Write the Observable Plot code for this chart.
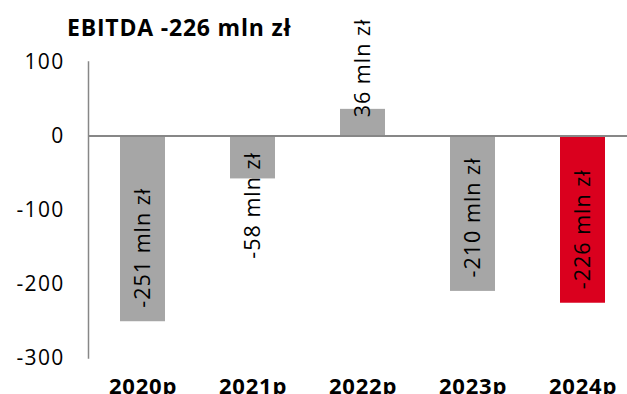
<!DOCTYPE html>
<html>
<head>
<meta charset="utf-8">
<script src="https://cdn.jsdelivr.net/npm/d3@7"></script>
<script src="https://cdn.jsdelivr.net/npm/@observablehq/plot@0.6"></script>
<style>
  html, body { margin: 0; padding: 0; background: #fff; overflow: hidden; }
  #wrap { position: relative; width: 627px; height: 394px; }
  #title {
    position: absolute; left: 67px; top: 12px;
    font: bold 23px "Open Sans", sans-serif; line-height: 30px; color: #000;
    letter-spacing: 0.8px; white-space: nowrap;
  }
  #wrap svg { position: absolute; left: 0; top: 0; overflow: visible; }
  #wrap g[aria-label="y-axis tick label"] text { letter-spacing: 1.3px; }
  #wrap g[aria-label="x-axis tick label"] text { letter-spacing: 0.8px; }
  #wrap g[aria-label="text"] text { letter-spacing: 1px; }
</style>
</head>
<body>
<div id="wrap"><div id="title"></div></div>
<script>
// EBITDA by year, in mln zł
const years = ["2020p", "2021p", "2022p", "2023p", "2024p"];
const ebitda = [-251, -58, 36, -210, -226];
const barColors = ["#A6A6A6", "#A6A6A6", "#A6A6A6", "#A6A6A6", "#DA001E"];
const yTicks = [100, 0, -100, -200, -300];
const unit = "mln zł";

const rows = years.map((year, i) => ({
  year,
  value: ebitda[i],
  color: barColors[i],
  label: `${ebitda[i]} ${unit}`
}));

document.getElementById("title").textContent = `EBITDA ${ebitda[ebitda.length - 1]} ${unit}`;

// label placement: inside the bar end when it fits, hanging under zero when it doesn't,
// and starting just inside the top of positive bars
const fitsInside = d => d.value < -150;
const hangsFromZero = d => d.value < 0 && d.value >= -150;
const positive = d => d.value >= 0;

const labelStyle = {x: "year", text: "label", rotate: -90, fontSize: 21.5, fill: "#000"};

const chart = Plot.plot({
  width: 627,
  height: 394,
  marginLeft: 88,
  marginRight: 0,
  marginTop: 61.5,
  marginBottom: 36.5,
  style: {fontFamily: '"Open Sans", sans-serif', fontSize: "20px", color: "#000", background: "transparent"},
  x: {domain: years, range: [88, 638], paddingInner: 0.59, paddingOuter: 0.295, align: 0.5, label: null},
  y: {domain: [-300, 100], label: null},
  color: {type: "identity"},
  marks: [
    Plot.barY(rows, {x: "year", y: "value", fill: "color"}),
    Plot.ruleY([0], {stroke: "#878787", strokeWidth: 2}),
    Plot.frame({anchor: "left", stroke: "#878787", strokeWidth: 1.5}),
    Plot.axisY({ticks: yTicks, tickSize: 0, tickPadding: 24, fontSize: 21, tickFormat: d => String(d), label: null}),
    Plot.axisX({tickSize: 0, tickPadding: 20, fontSize: 22, fontWeight: "bold", label: null}),
    Plot.text(rows.filter(fitsInside), {...labelStyle, y: "value", textAnchor: "start", dy: -14}),
    Plot.text(rows.filter(hangsFromZero), {...labelStyle, y: () => 0, textAnchor: "end", dy: 16}),
    Plot.text(rows.filter(positive), {...labelStyle, y: "value", textAnchor: "start", dy: 8})
  ]
});

document.getElementById("wrap").appendChild(chart);
</script>
</body>
</html>
